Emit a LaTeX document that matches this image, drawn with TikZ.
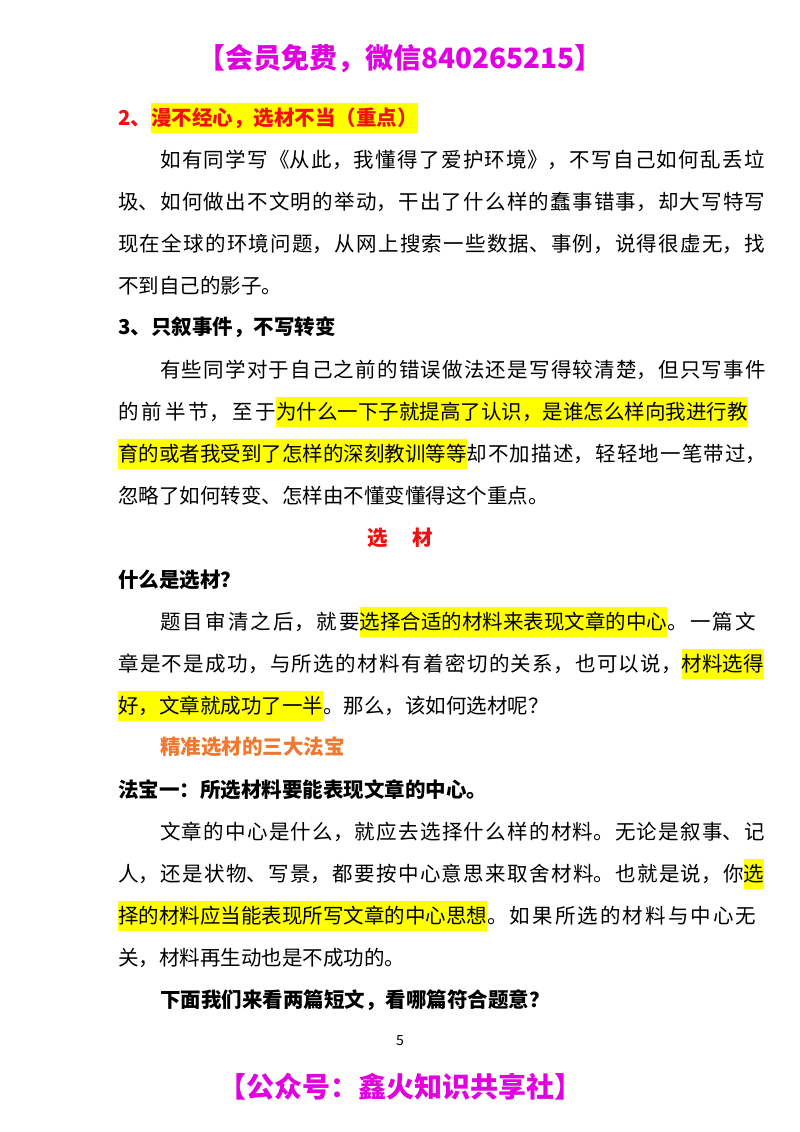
\documentclass[tikz,border=0pt]{standalone}
\usepackage{fontspec}
\setmainfont{Noto Sans CJK SC}
\XeTeXlinebreaklocale "zh"
\XeTeXlinebreakskip=0pt plus 4pt
\definecolor{mag}{HTML}{E000E0}
\definecolor{hred}{HTML}{F01010}
\definecolor{orng}{HTML}{F07830}
\definecolor{hy}{HTML}{FFFF00}
\newcommand\hlt[1]{{\setlength{\fboxsep}{0pt}\colorbox{hy}{\rule[-8pt]{0pt}{30pt}#1}}}
\begin{document}
\begin{tikzpicture}[x=1pt,y=-1pt,
  body/.style={anchor=base west,inner sep=0pt,font=\fontsize{20.5}{24}\selectfont},
  full/.style={body,text width=660pt,execute at begin node={\parfillskip=0pt}},
  ind/.style={body,text width=618pt,execute at begin node={\parfillskip=0pt}},
  head/.style={body,font=\fontsize{20.5}{24}\selectfont\bfseries}]
\useasboundingbox[fill=white] (0,0) rectangle (800,1132);
\node[inner sep=0pt,anchor=base,text=mag,font=\fontsize{28}{32}\selectfont\bfseries] (hd) at (400,69) {【会员免费，微信840265215】};
\node[head,text=hred] (h2) at (118,125) {2、\hlt{漫不经心，选材不当（重点）}};
\node[ind] (a1) at (160,167) {如有同学写《从此，我懂得了爱护环境》，不写自己如何乱丢垃};
\node[full] (a2) at (118,209) {圾、如何做出不文明的举动，干出了什么样的蠢事错事，却大写特写};
\node[full] (a3) at (118,251) {现在全球的环境问题，从网上搜索一些数据、事例，说得很虚无，找};
\node[body] (a4) at (118,293) {不到自己的影子。};
\node[head] (h3) at (118,334) {3、只叙事件，不写转变};
\node[ind] (b1) at (160,377) {有些同学对于自己之前的错误做法还是写得较清楚，但只写事件};
\node[full] (b2) at (118,419) {的前半节，至于\hlt{为什么一下子就提高了认识，是谁怎么样向我进行教}};
\node[full] (b3) at (118,461) {\hlt{育的或者我受到了怎样的深刻教训等等}却不加描述，轻轻地一笔带过，};
\node[body] (b4) at (118,503) {忽略了如何转变、怎样由不懂变懂得这个重点。};
\node[head,anchor=base,text=hred] (xc) at (400,545) {选\hspace{1.2em}材};
\node[head] (h4) at (118,587) {什么是选材？};
\node[ind] (c1) at (160,629) {题目审清之后，就要\hlt{选择合适的材料来表现文章的中心}。一篇文};
\node[full] (c2) at (118,671) {章是不是成功，与所选的材料有着密切的关系，也可以说，\hlt{材料选得}};
\node[body] (c3) at (118,713) {\hlt{好，文章就成功了一半}。那么，该如何选材呢？};
\node[head,text=orng] (h5) at (160,754) {精准选材的三大法宝};
\node[head] (h6) at (118,797) {法宝一：所选材料要能表现文章的中心。};
\node[ind] (d1) at (160,839) {文章的中心是什么，就应去选择什么样的材料。无论是叙事、记};
\node[full] (d2) at (118,881) {人，还是状物、写景，都要按中心意思来取舍材料。也就是说，你\hlt{选}};
\node[full] (d3) at (118,923) {\hlt{择的材料应当能表现所写文章的中心思想}。如果所选的材料与中心无};
\node[body] (d4) at (118,965) {关，材料再生动也是不成功的。};
\node[head] (h7) at (160,1007) {下面我们来看两篇短文，看哪篇符合题意？};
\node[inner sep=0pt,anchor=base,font=\fontsize{14}{16}\selectfont] (pg) at (400,1045) {5};
\node[inner sep=0pt,anchor=base,text=mag,font=\fontsize{28}{32}\selectfont\bfseries] (ft) at (400,1097) {【公众号：鑫火知识共享社】};
\end{tikzpicture}
\end{document}
